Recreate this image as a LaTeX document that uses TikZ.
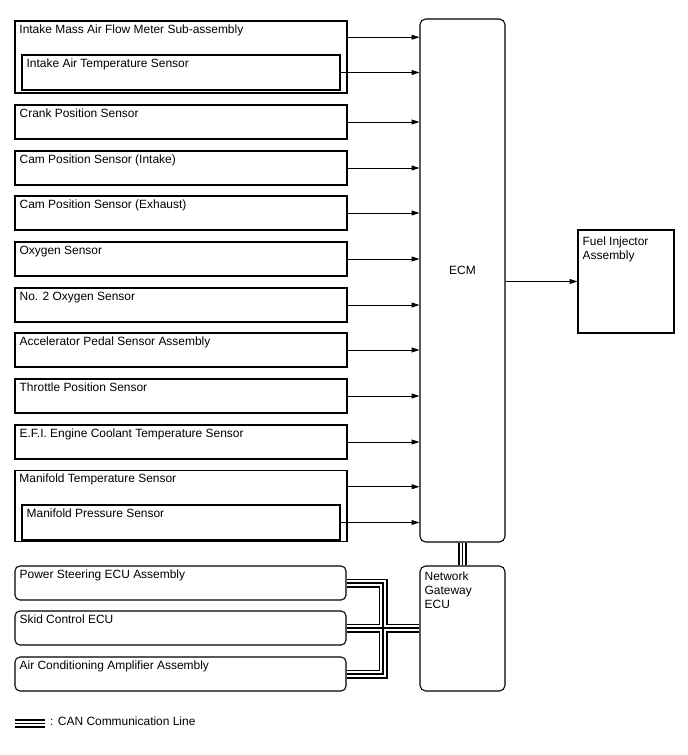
\documentclass[tikz,border=0pt]{standalone}
\usepackage{fontspec}
\setmainfont{Liberation Sans}
\usetikzlibrary{arrows.meta,calc}
\newcommand{\pxu}{0.025cm}

\begin{document}
\begin{tikzpicture}[
  x=\pxu, y=-\pxu,
  every node/.style={font=\fontsize{8.5}{10}\selectfont},
  boxtext/.style={anchor=north west,inner sep=0pt,xshift=3.5pt,yshift=-2.8pt,align=left},
  box/.style={draw,line width=0.75pt,inner sep=0pt,minimum width=332*\pxu,
    minimum height=34*\pxu,label={[boxtext]north west:#1}},
  outerbox/.style={box={#1},line width=1.1pt,minimum height=71*\pxu},
  innerbox/.style={box={#1},minimum width=318*\pxu,minimum height=35*\pxu},
  ecubox/.style={box={#1},rounded corners=3.5pt,minimum width=331*\pxu},
  unit/.style={draw,line width=0.75pt,inner sep=0pt,rounded corners=4pt,minimum width=85*\pxu},
  sig/.style={-{Triangle[length=5.5pt,width=3.4pt]},line width=0.6pt}
]
\useasboundingbox (0,0) rectangle (688,755);

% inputs
\node[outerbox={Intake Mass Air Flow Meter Sub-assembly},minimum height=72*\pxu] (maf) at (181,57) {};
\node[innerbox={Intake Air Temperature Sensor}] (iat) at (181,72.5) {};
\node[box={Crank Position Sensor}] (crk) at (181,122) {};
\node[box={Cam Position Sensor (Intake)}] (cmi) at (181,168) {};
\node[box={Cam Position Sensor (Exhaust)}] (cme) at (181,213) {};
\node[box={Oxygen Sensor}] (oxy) at (181,259) {};
\node[box={No. 2 Oxygen Sensor}] (oxb) at (181,305) {};
\node[box={Accelerator Pedal Sensor Assembly}] (acc) at (181,350) {};
\node[box={Throttle Position Sensor}] (thr) at (181,396) {};
\node[box={E.F.I. Engine Coolant Temperature Sensor}] (efi) at (181,442) {};
\node[outerbox={Manifold Temperature Sensor}] (mft) at (181,506) {};
\node[innerbox={Manifold Pressure Sensor}] (mps) at (181,522.5) {};

% CAN side
\node[ecubox={Power Steering ECU Assembly}] (ps) at (180.5,583) {};
\node[ecubox={Skid Control ECU}] (sk) at (180.5,628) {};
\node[ecubox={Air Conditioning Amplifier Assembly}] (ac) at (180.5,674) {};

% controllers
\node[unit,minimum height=523*\pxu,label={[yshift=7pt]center:ECM}] (ecm) at (462.5,280.5) {};
\node[unit,minimum height=125*\pxu,label={[boxtext,yshift=-1.5pt]north west:Network\\Gateway\\ECU}] (gw) at (462.5,628.5) {};
\node[draw,line width=0.75pt,inner sep=0pt,minimum width=96*\pxu,minimum height=103*\pxu,
  label={[boxtext,yshift=-2pt]north west:Fuel Injector\\Assembly}] (fuel) at (626,281.5) {};

% signal lines
\draw[sig] ($(maf.north east)+(0,17)$) coordinate (mafo) -- (mafo -| ecm.west);
\draw[sig] ($(mft.north east)+(0,17)$) coordinate (mfto) -- (mfto -| ecm.west);
\foreach \n in {iat,crk,cmi,cme,oxy,oxb,acc,thr,efi,mps}
  \draw[sig] (\n) -- (\n -| ecm.west);
\draw[sig] (ecm.east |- fuel) -- (fuel);

% CAN bus
\coordinate (jn) at (383,628);
\coordinate (lg1) at (15,723.5);
\coordinate (lg2) at (45,723.5);
\foreach \w/\c in {9/black,5.2/white,1.4/black}{
  \draw[line width=\w*\pxu,\c] (ps) -| (jn) |- (ac);
  \draw[line width=\w*\pxu,\c] (sk) -- (sk -| gw.west);
  \draw[line width=\w*\pxu,\c] (ecm) -- (gw);
  \draw[line width=\w*\pxu,\c] (lg1) -- (lg2);
}
\node[anchor=west,inner sep=3.5pt,yshift=1.5pt] (lgt) at (lg2) {: CAN Communication Line};
\end{tikzpicture}
\end{document}
